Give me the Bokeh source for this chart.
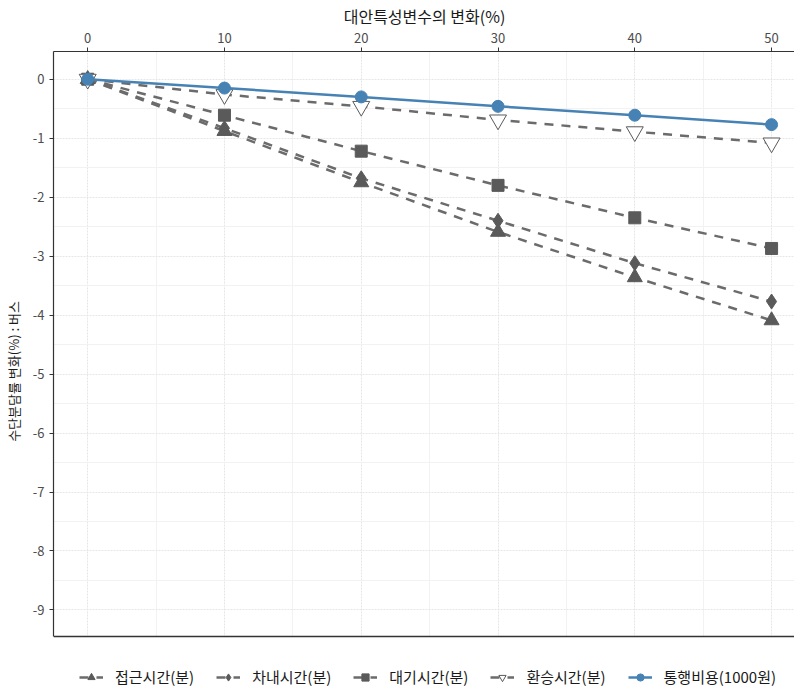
from bokeh.plotting import figure
from bokeh.models import Range1d, FixedTicker, Legend, LegendItem, Span, BoxAnnotation
from bokeh.embed import file_html
from bokeh.resources import INLINE

# ---- data ----
pct = [0, 10, 20, 30, 40, 50]
access_time = [0, -0.88, -1.75, -2.59, -3.36, -4.09]      # 접근시간(분)
invehicle_time = [0, -0.83, -1.68, -2.40, -3.12, -3.77]   # 차내시간(분)
wait_time = [0, -0.61, -1.22, -1.80, -2.35, -2.87]        # 대기시간(분)
transfer_time = [0, -0.26, -0.46, -0.69, -0.89, -1.08]    # 환승시간(분)
travel_cost = [0, -0.15, -0.30, -0.46, -0.61, -0.77]      # 통행비용(1000원)

series_names = ["접근시간(분)", "차내시간(분)", "대기시간(분)", "환승시간(분)", "통행비용(1000원)"]
x_ticks = [0, 10, 20, 30, 40, 50]
x_minor = [5, 15, 25, 35, 45]
y_ticks = [0, -1, -2, -3, -4, -5, -6, -7, -8, -9]
y_minor = [-0.5, -1.5, -2.5, -3.5, -4.5, -5.5, -6.5, -7.5, -8.5]
y_tick_labels = ["0", "-1", "-2", "-3", "-4", "-5", "-6", "-7", "-8", "-9"]

x_title = "대안특성변수의 변화(%)"
y_title = "수단분담률 변화(%) : 버스"

FONT = "Noto Sans CJK KR"
GRAY_LINE = "#6b6b6b"
GRAY_MARK = "#5a5a5a"
BLUE = "#4682B4"

# visible panel limits and pixel layout
Y_LO, Y_HI = -9.45, 0.47
PANEL_H = 585          # visible plotting panel height (px)
LEGEND_H = 55          # strip under the panel that holds the legend (px)
Y_START = Y_LO - LEGEND_H * (Y_HI - Y_LO) / PANEL_H

p = figure(frame_width=742, frame_height=PANEL_H + LEGEND_H, output_backend="svg",
           toolbar_location=None, x_axis_location="above",
           x_range=Range1d(-2.5, 51.75), y_range=Range1d(Y_START, Y_HI),
           min_border_left=0, min_border_right=0, min_border_top=0, min_border_bottom=0)
p.outline_line_color = None
p.background_fill_color = "white"

# axes
for ax in (p.xaxis[0], p.yaxis[0]):
    ax.axis_line_color = "#333333"
    ax.axis_line_width = 1.2
    ax.major_tick_line_color = "#333333"
    ax.major_tick_out = 4
    ax.major_tick_in = 0
    ax.minor_tick_line_color = None
    ax.major_label_text_font = FONT
    ax.major_label_text_font_size = "13px"
    ax.major_label_text_color = "#4d4d4d"
    ax.axis_label_text_font = FONT
    ax.axis_label_text_font_style = "normal"
    ax.axis_label_text_color = "#1a1a1a"

p.xaxis[0].ticker = FixedTicker(ticks=x_ticks, minor_ticks=x_minor)
p.yaxis[0].ticker = FixedTicker(ticks=y_ticks, minor_ticks=y_minor)
p.yaxis[0].major_label_overrides = dict(zip(y_ticks, y_tick_labels))
p.yaxis[0].bounds = (Y_LO, Y_HI)
p.xaxis[0].axis_label = x_title
p.xaxis[0].axis_label_text_font_size = "16px"
p.xaxis[0].axis_label_standoff = 2
p.xaxis[0].major_label_standoff = 5
p.yaxis[0].axis_label = y_title
p.yaxis[0].axis_label_text_font_size = "13px"
p.yaxis[0].axis_label_standoff = 7
p.yaxis[0].major_label_standoff = 5

# grid
p.xgrid.ticker = FixedTicker(ticks=x_ticks, minor_ticks=x_minor)
p.ygrid.ticker = FixedTicker(ticks=y_ticks, minor_ticks=y_minor)
for g in (p.xgrid[0], p.ygrid[0]):
    g.grid_line_color = "#e6e6e6"
    g.grid_line_width = 1
    g.grid_line_dash = "2 1"
    g.minor_grid_line_color = "#f2f2f2"
    g.minor_grid_line_width = 1

items = []
specs = [
    (access_time, "triangle", 15, GRAY_MARK, GRAY_MARK),
    (invehicle_time, "diamond", 15, GRAY_MARK, GRAY_MARK),
    (wait_time, "square", 12, GRAY_MARK, GRAY_MARK),
    (transfer_time, "inverted_triangle", 17, "white", GRAY_MARK),
]
for (vals, marker, size, fill, linec), name in zip(specs, series_names[:4]):
    l = p.line(pct, vals, line_color=GRAY_LINE, line_width=2.5, line_dash="9 8")
    s = p.scatter(pct, vals, marker=marker, size=size, fill_color=fill,
                  line_color=linec, line_width=1)
    items.append(LegendItem(label=name, renderers=[l, s]))

lb = p.line(pct, travel_cost, line_color=BLUE, line_width=2.5)
sb = p.scatter(pct, travel_cost, marker="circle", size=12, fill_color=BLUE, line_color=BLUE)
items.append(LegendItem(label=series_names[4], renderers=[lb, sb]))

# white strip below the panel (legend area) and the panel's bottom border
p.add_layout(BoxAnnotation(top=Y_LO, fill_color="white", fill_alpha=1, line_color=None))
p.add_layout(Span(location=Y_LO, dimension="width", line_color="#333333", line_width=1.5))

legend = Legend(items=items, orientation="horizontal", location=(26, 4),
                label_text_font=FONT, label_text_font_size="15px",
                label_text_color="#1a1a1a", glyph_width=24, glyph_height=18,
                label_standoff=12, spacing=22, padding=2, margin=0,
                border_line_color=None, background_fill_alpha=0)
p.add_layout(legend)

open("out.html", "w").write(file_html(p, INLINE))
